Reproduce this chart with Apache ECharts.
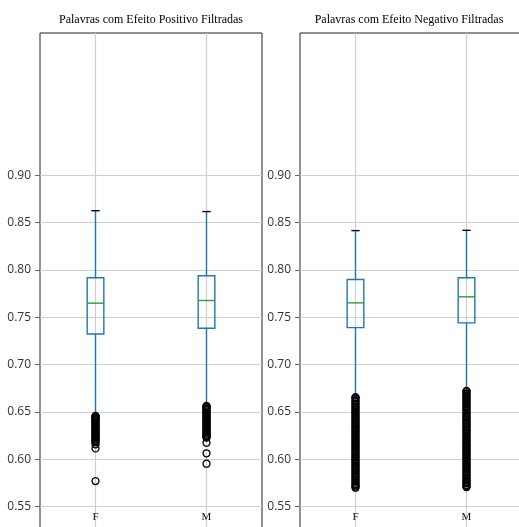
<!DOCTYPE html>
<html><head><meta charset="utf-8">
<script src="https://cdn.jsdelivr.net/npm/echarts@6/dist/echarts.min.js"></script>
<style>html,body{margin:0;padding:0;background:#fff}#c{width:519px;height:527px}</style>
</head><body><div id="c"></div>
<script>
const categories = ['F', 'M'];
const yTicks = [0.55, 0.60, 0.65, 0.70, 0.75, 0.80, 0.85, 0.90];
const titles = ['Palavras com Efeito Positivo Filtradas', 'Palavras com Efeito Negativo Filtradas'];
// [lower whisker, Q1, median, Q3, upper whisker]
const posF = [0.6458, 0.7323, 0.7648, 0.7916, 0.8624];
const posM = [0.6564, 0.7383, 0.7676, 0.7937, 0.8615];
const negF = [0.6655, 0.7390, 0.7651, 0.7898, 0.8414];
const negM = [0.6722, 0.7440, 0.7715, 0.7916, 0.8417];
const posOutF = [0.6458,0.6447,0.6436,0.6425,0.6412,0.6401,0.6389,0.6377,0.6366,0.6352,0.6341,0.6329,0.6318,0.6304,0.6293,0.6281,0.6268,0.6257,0.6243,0.6232,0.6219,0.6206,0.6192,0.6180,0.6158,0.6115,0.5770];
const posOutM = [0.6564,0.6553,0.6541,0.6530,0.6518,0.6506,0.6493,0.6481,0.6470,0.6457,0.6445,0.6432,0.6420,0.6409,0.6396,0.6384,0.6372,0.6360,0.6347,0.6335,0.6322,0.6310,0.6298,0.6285,0.6273,0.6261,0.6248,0.6236,0.6228,0.6175,0.6063,0.5953];
const negOutF = [0.6655,0.6641,0.6622,0.6609,0.6590,0.6574,0.6555,0.6541,0.6523,0.6506,0.6490,0.6476,0.6459,0.6441,0.6428,0.6409,0.6392,0.6375,0.6360,0.6344,0.6329,0.6311,0.6296,0.6280,0.6262,0.6246,0.6231,0.6214,0.6197,0.6183,0.6164,0.6148,0.6131,0.6117,0.6099,0.6082,0.6068,0.6050,0.6033,0.6019,0.6001,0.5984,0.5970,0.5952,0.5935,0.5921,0.5903,0.5886,0.5872,0.5854,0.5837,0.5823,0.5805,0.5788,0.5774,0.5756,0.5739,0.5725,0.5712,0.5700];
const negOutM = [0.6722,0.6708,0.6690,0.6673,0.6658,0.6641,0.6627,0.6609,0.6592,0.6578,0.6561,0.6544,0.6530,0.6512,0.6495,0.6481,0.6463,0.6446,0.6432,0.6414,0.6397,0.6383,0.6365,0.6348,0.6334,0.6316,0.6299,0.6285,0.6267,0.6250,0.6236,0.6218,0.6201,0.6187,0.6169,0.6152,0.6138,0.6120,0.6103,0.6089,0.6071,0.6054,0.6040,0.6022,0.6005,0.5991,0.5973,0.5956,0.5942,0.5924,0.5907,0.5893,0.5875,0.5858,0.5844,0.5826,0.5809,0.5795,0.5777,0.5760,0.5746,0.5728,0.5715,0.5706];

const panels = [
  { stats: [posF, posM], out: [posOutF, posOutM] },
  { stats: [negF, negM], out: [negOutF, negOutM] }
];
const gridLefts = [40, 300];
const titleCenters = [151, 409];

const C0 = '#1f77b4', MED = '#2ca02c';
const sans = 'Open Sans';

function renderBox(params, api) {
  const x = api.value(0);
  const lo = api.coord([x, api.value(1)]);
  const q1 = api.coord([x, api.value(2)]);
  const md = api.coord([x, api.value(3)]);
  const q3 = api.coord([x, api.value(4)]);
  const hi = api.coord([x, api.value(5)]);
  const band = api.size([1, 0])[0];
  const bw = band * 0.15, cw = bw / 2;
  const cx = lo[0];
  const blue = { stroke: C0, lineWidth: 1.4, fill: null };
  return {
    type: 'group',
    children: [
      { type: 'line', shape: { x1: cx, y1: q1[1], x2: cx, y2: lo[1] }, style: blue },
      { type: 'line', shape: { x1: cx, y1: q3[1], x2: cx, y2: hi[1] }, style: blue },
      { type: 'rect', shape: { x: cx - bw / 2, y: q3[1], width: bw, height: q1[1] - q3[1] }, style: blue },
      { type: 'line', shape: { x1: cx - bw / 2, y1: md[1], x2: cx + bw / 2, y2: md[1] }, style: { stroke: MED, lineWidth: 1.4 } },
      { type: 'line', shape: { x1: cx - cw / 2, y1: hi[1], x2: cx + cw / 2, y2: hi[1] }, style: { stroke: '#000', lineWidth: 1.4 } },
      { type: 'line', shape: { x1: cx - cw / 2, y1: lo[1], x2: cx + cw / 2, y2: lo[1] }, style: { stroke: '#000', lineWidth: 1.4 } }
    ]
  };
}

const option = {
  animation: false,
  backgroundColor: '#fff',
  title: titles.map((t, i) => ({
    text: t, left: titleCenters[i], top: 14, textAlign: 'center', padding: 0,
    textStyle: { fontFamily: 'Liberation Serif', fontSize: 12, fontWeight: 'normal', color: '#000' }
  })),
  grid: gridLefts.map(l => ({ left: l, width: 222, top: 33, height: 521, outerBoundsMode: 'none', containLabel: false, show: true, borderColor: '#222', borderWidth: 1, backgroundColor: 'transparent' })),
  xAxis: gridLefts.map((l, i) => ({
    type: 'category', gridIndex: i, data: categories, offset: -46,
    axisLine: { show: false }, axisTick: { show: false },
    axisLabel: { fontFamily: 'Liberation Serif', fontSize: 11, color: '#111', margin: 4 },
    splitLine: { show: true, alignWithLabel: true, lineStyle: { color: '#cfcfcf', width: 1.2 } }
  })),
  yAxis: gridLefts.map((l, i) => ({
    type: 'value', gridIndex: i, min: 0.5, max: 1.05, interval: 0.05,
    axisLine: { show: false },
    axisTick: { show: true, length: 5, customValues: yTicks, lineStyle: { color: '#666' } },
    axisLabel: { customValues: yTicks, formatter: v => v.toFixed(2), margin: 9, fontFamily: sans, fontSize: 12, color: '#333' },
    splitLine: { show: true, lineStyle: { color: '#cfcfcf', width: 1.2 } }
  })),
  series: []
};

panels.forEach((p, i) => {
  option.series.push({
    type: 'custom', xAxisIndex: i, yAxisIndex: i, renderItem: renderBox,
    encode: { x: 0, y: [1, 2, 3, 4, 5] },
    data: p.stats.map((s, k) => [k].concat(s)), z: 3
  });
  p.out.forEach((arr, k) => {
    option.series.push({
      type: 'scatter', xAxisIndex: i, yAxisIndex: i, symbol: 'circle', symbolSize: 7, z: 4,
      itemStyle: { color: 'rgba(0,0,0,0)', borderColor: '#000', borderWidth: 1.3, opacity: 1 },
      data: arr.map(v => [categories[k], v])
    });
  });
});

const chart = echarts.init(document.getElementById('c'), null, { renderer: 'canvas' });
chart.setOption(option);
</script>
</body></html>
